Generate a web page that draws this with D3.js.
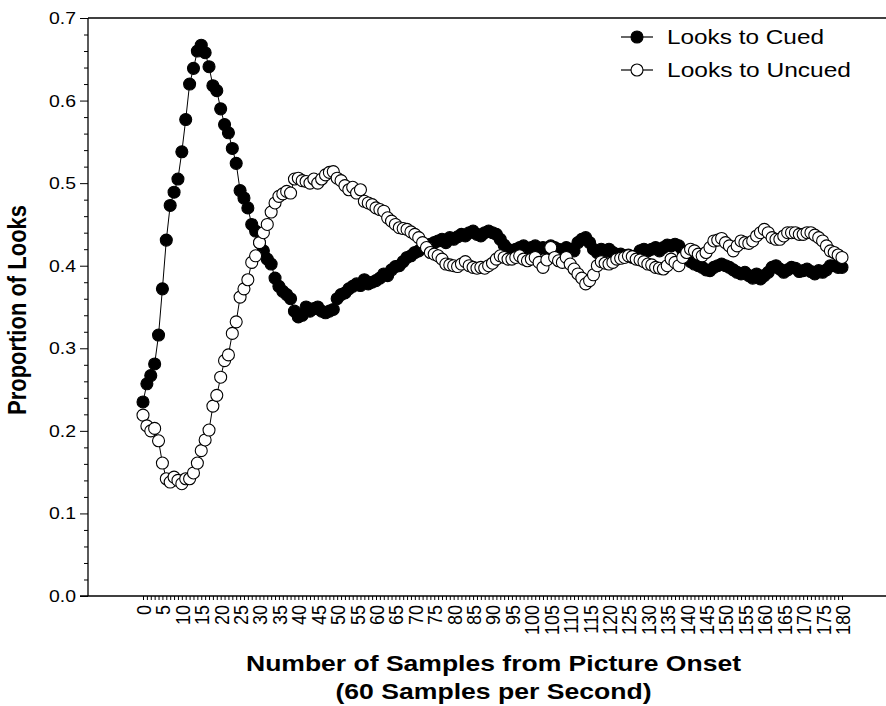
<!DOCTYPE html>
<html>
<head>
<meta charset="utf-8">
<script src="https://cdn.jsdelivr.net/npm/d3@7"></script>
<style>
  html, body { margin: 0; padding: 0; background: #fff; }
  svg { display: block; font-family: "Liberation Sans", Arial, Helvetica, sans-serif; }
</style>
</head>
<body>
<svg id="chart" width="886" height="706"></svg>
<script>
// ---- data ----
const cued = [
  0.235,0.257,0.267,0.281,0.316,0.372,0.431,0.473,0.489,0.505,
  0.538,0.577,0.620,0.639,0.660,0.667,0.658,0.641,0.618,0.612,
  0.590,0.571,0.561,0.542,0.524,0.491,0.482,0.470,0.450,0.442,
  0.428,0.418,0.408,0.402,0.385,0.375,0.369,0.365,0.360,0.345,
  0.338,0.340,0.350,0.345,0.348,0.350,0.345,0.343,0.345,0.347,
  0.360,0.365,0.367,0.372,0.375,0.378,0.376,0.383,0.378,0.380,
  0.382,0.385,0.390,0.388,0.395,0.399,0.400,0.405,0.410,0.412,
  0.416,0.418,0.422,0.425,0.426,0.428,0.430,0.432,0.428,0.434,
  0.432,0.435,0.438,0.436,0.440,0.442,0.438,0.436,0.440,0.442,
  0.440,0.438,0.432,0.425,0.420,0.418,0.420,0.422,0.424,0.420,
  0.422,0.424,0.420,0.422,0.420,0.424,0.422,0.420,0.418,0.422,
  0.420,0.418,0.428,0.432,0.434,0.428,0.420,0.416,0.420,0.418,
  0.420,0.416,0.412,0.414,0.412,0.413,0.410,0.412,0.418,0.420,
  0.418,0.420,0.422,0.418,0.422,0.425,0.424,0.426,0.424,0.418,
  0.412,0.405,0.402,0.400,0.398,0.395,0.394,0.398,0.400,0.402,
  0.400,0.398,0.395,0.392,0.390,0.392,0.388,0.385,0.390,0.384,
  0.388,0.392,0.398,0.400,0.396,0.392,0.395,0.398,0.397,0.393,
  0.394,0.396,0.393,0.390,0.394,0.392,0.395,0.400,0.400,0.398,
  0.398
];
const uncued = [
  0.219,0.206,0.200,0.203,0.188,0.161,0.142,0.138,0.144,0.140,
  0.136,0.142,0.142,0.149,0.161,0.176,0.189,0.201,0.230,0.243,
  0.265,0.285,0.292,0.318,0.332,0.362,0.372,0.383,0.404,0.412,
  0.428,0.440,0.450,0.465,0.476,0.484,0.487,0.490,0.488,0.505,
  0.506,0.503,0.502,0.500,0.505,0.500,0.505,0.510,0.513,0.514,
  0.506,0.503,0.497,0.492,0.495,0.488,0.492,0.478,0.476,0.474,
  0.470,0.468,0.466,0.458,0.454,0.450,0.446,0.445,0.444,0.441,
  0.438,0.434,0.428,0.422,0.416,0.414,0.412,0.408,0.402,0.401,
  0.400,0.399,0.402,0.405,0.400,0.398,0.397,0.398,0.397,0.400,
  0.403,0.408,0.412,0.410,0.408,0.408,0.410,0.412,0.408,0.406,
  0.408,0.410,0.404,0.398,0.407,0.422,0.410,0.406,0.404,0.410,
  0.402,0.396,0.390,0.385,0.378,0.382,0.389,0.400,0.405,0.403,
  0.402,0.404,0.408,0.409,0.410,0.412,0.411,0.408,0.407,0.405,
  0.402,0.401,0.398,0.397,0.396,0.400,0.408,0.404,0.400,0.410,
  0.416,0.420,0.418,0.414,0.412,0.416,0.422,0.430,0.431,0.433,
  0.428,0.424,0.418,0.424,0.430,0.428,0.427,0.430,0.436,0.440,
  0.444,0.440,0.434,0.432,0.432,0.436,0.440,0.440,0.440,0.438,
  0.438,0.440,0.440,0.437,0.434,0.430,0.424,0.418,0.416,0.413,
  0.410
];
const samples = d3.range(0, 181);                 // sample index for each value
const xTickLabels = ["0","5","10","15","20","25","30","35","40","45","50","55","60","65","70","75","80","85","90",
  "95","100","105","110","115","120","125","130","135","140","145","150","155","160","165","170","175","180"];
const yTickLabels = ["0.0","0.1","0.2","0.3","0.4","0.5","0.6","0.7"];
const seriesNames = ["Looks to Cued", "Looks to Uncued"];
const xTitle1 = "Number of Samples from Picture Onset";
const xTitle2 = "(60 Samples per Second)";
const yTitle = "Proportion of Looks";

// ---- layout ----
const svg = d3.select("#chart");
const pLeft = 88, pRight = 886, pTop = 18, pBottom = 596;
const x = d3.scaleLinear().domain([0, 180]).range([143, 842]);
const y = d3.scaleLinear().domain([0, 0.7]).range([pBottom, pTop]);

const yMajor = yTickLabels.map(Number);
const yMinor = d3.range(0, 71, 2).map(v => v / 100).filter(v => Math.round(v * 100) % 10 !== 0);

// y axis minor
svg.append("g").attr("transform", `translate(${pLeft},0)`)
  .call(d3.axisLeft(y).tickValues(yMinor).tickSize(4).tickFormat(""))
  .call(g => g.select(".domain").remove());
// y axis major
const yAx = svg.append("g").attr("transform", `translate(${pLeft},0)`)
  .call(d3.axisLeft(y).tickValues(yMajor).tickSize(8).tickPadding(4).tickFormat((d, i) => yTickLabels[i]))
  .call(g => g.select(".domain").remove());
yAx.selectAll("text").attr("font-size", 17).attr("fill", "#000")
  .attr("textLength", 27).attr("lengthAdjust", "spacingAndGlyphs");
svg.selectAll(".tick line").attr("stroke", "#000");

// x axis
const xLabelSet = new Set(xTickLabels);
const xAx = svg.append("g").attr("transform", `translate(0,${pBottom})`)
  .call(d3.axisBottom(x).tickValues(samples).tickSize(4)
    .tickFormat(d => xLabelSet.has(String(d)) ? String(d) : ""))
  .call(g => g.select(".domain").remove());
xAx.selectAll("line").attr("stroke", "#000");
xAx.selectAll("text")
  .attr("font-size", 18).attr("fill", "#000")
  .attr("transform", "rotate(-90) scale(1,1.15)")
  .attr("text-anchor", "end")
  .attr("x", -9).attr("y", 0).attr("dy", "0.36em");

// frame lines (left axis, bottom axis, top line)
svg.append("line").attr("x1", pLeft).attr("x2", pLeft).attr("y1", pTop).attr("y2", pBottom)
  .attr("stroke", "#000").attr("stroke-width", 1.3);
svg.append("line").attr("x1", pLeft - 8).attr("x2", pRight).attr("y1", pBottom).attr("y2", pBottom)
  .attr("stroke", "#000").attr("stroke-width", 1.3);
svg.append("line").attr("x1", pLeft).attr("x2", pRight).attr("y1", pTop).attr("y2", pTop)
  .attr("stroke", "#000").attr("stroke-width", 1.3);

// series
const line = d3.line().x((d, i) => x(samples[i])).y(d => y(d));
const r = 6;
function drawSeries(vals, fill) {
  const g = svg.append("g");
  g.append("path").datum(vals).attr("d", line).attr("fill", "none").attr("stroke", "#000").attr("stroke-width", 1);
  g.selectAll("circle").data(vals).join("circle")
    .attr("cx", (d, i) => x(samples[i])).attr("cy", d => y(d)).attr("r", r)
    .attr("fill", fill).attr("stroke", "#000").attr("stroke-width", 1.1);
}
drawSeries(cued, "#000");
drawSeries(uncued, "#fff");

// legend
const legY = [37, 70];
const legFill = ["#000", "#fff"];
const legW = [157, 184];
seriesNames.forEach((name, i) => {
  const g = svg.append("g");
  g.append("line").attr("x1", 621).attr("x2", 653).attr("y1", legY[i]).attr("y2", legY[i]).attr("stroke", "#000").attr("stroke-width", 1.2);
  g.append("circle").attr("cx", 637).attr("cy", legY[i]).attr("r", 6).attr("fill", legFill[i]).attr("stroke", "#000").attr("stroke-width", 1.1);
  g.append("text").attr("x", 667).attr("y", legY[i]).attr("dy", "0.35em")
    .attr("font-size", 20).attr("textLength", legW[i]).attr("lengthAdjust", "spacingAndGlyphs")
    .text(name);
});

// axis titles
svg.append("text").attr("x", 493.5).attr("y", 671).attr("text-anchor", "middle")
  .attr("font-size", 22).attr("font-weight", "bold")
  .attr("textLength", 495).attr("lengthAdjust", "spacingAndGlyphs").text(xTitle1);
svg.append("text").attr("x", 493.5).attr("y", 699).attr("text-anchor", "middle")
  .attr("font-size", 22).attr("font-weight", "bold")
  .attr("textLength", 316).attr("lengthAdjust", "spacingAndGlyphs").text(xTitle2);
svg.append("text").attr("transform", "translate(26,310) rotate(-90) scale(1,1.15)")
  .attr("text-anchor", "middle")
  .attr("font-size", 22).attr("font-weight", "bold").text(yTitle);
</script>
</body>
</html>
